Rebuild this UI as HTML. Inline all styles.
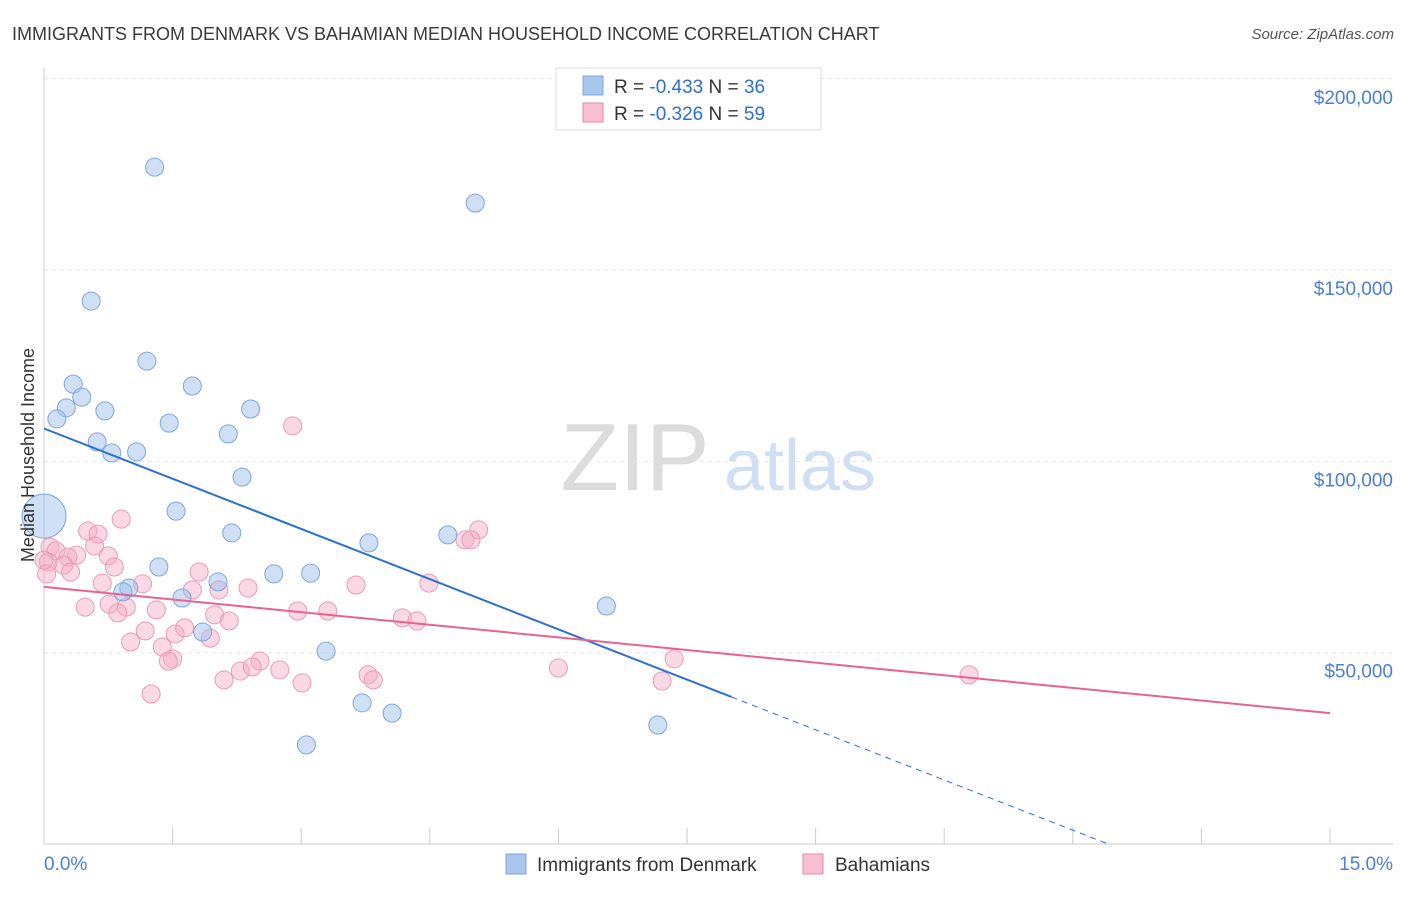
<!DOCTYPE html>
<html><head><meta charset="utf-8"><style>
body{margin:0;background:#fff;font-family:"Liberation Sans",sans-serif}
svg text{font-family:"Liberation Sans",sans-serif}
</style></head><body>
<svg width="1406" height="892" xmlns="http://www.w3.org/2000/svg">
<text x="12" y="40" font-size="18" fill="#3a3a3a">IMMIGRANTS FROM DENMARK VS BAHAMIAN MEDIAN HOUSEHOLD INCOME CORRELATION CHART</text>
<text x="1394" y="39" font-size="15" fill="#555" font-style="italic" text-anchor="end">Source: ZipAtlas.com</text>
<g id="grid"></g>
<g><text x="635" y="490" font-size="96" fill="#dcdcdc" font-family="Liberation Serif" text-anchor="middle">ZIP</text><text x="800" y="490" font-size="72" fill="#cfe0f4" text-anchor="middle">atlas</text></g>
<g id="axes"></g>
<g id="marks"></g>
<text transform="translate(34,455) rotate(-90)" font-size="18" fill="#333" text-anchor="middle">Median Household Income</text>
<g>
<rect x="556" y="68" width="265" height="62" fill="#fff" stroke="#ddd"/>
<rect x="583" y="76" width="20" height="19" fill="#a9c6ec" stroke="#7fa6dc"/>
<rect x="583" y="103" width="20" height="19" fill="#f7bfd0" stroke="#e98aa8"/>
<text x="614" y="93" font-size="19" fill="#333">R = <tspan fill="#2b6fd6">-0.433</tspan>   N = <tspan fill="#2b6fd6">36</tspan></text>
<text x="614" y="120" font-size="19" fill="#333">R = <tspan fill="#2b6fd6">-0.326</tspan>   N = <tspan fill="#2b6fd6">59</tspan></text>
</g>
<g>
<rect x="506" y="854" width="20" height="20" fill="#a9c6ec" stroke="#7fa6dc"/>
<text x="537" y="871" font-size="19" fill="#333">Immigrants from Denmark</text>
<rect x="803" y="854" width="20" height="20" fill="#f7bfd0" stroke="#e98aa8"/>
<text x="835" y="871" font-size="19" fill="#333">Bahamians</text>
</g>
</svg>
<script>
const blueX=[1.29,5.03,0.55,1.20,0.34,1.73,0.44,0.26,0.71,2.41,0.15,1.46,2.15,0.62,0.79,1.08,2.31,1.54,0.0,2.19,3.79,4.71,1.34,2.68,3.11,2.03,0.99,0.92,1.61,6.56,1.85,3.29,3.71,4.06,3.06,7.16];
const blueY=[176.9,167.5,141.9,126.2,120.2,119.7,116.8,114.0,113.2,113.7,111.1,110.0,107.2,105.1,102.2,102.5,95.9,87.0,85.7,81.3,78.7,80.8,72.4,70.6,70.8,68.5,66.9,65.9,64.3,62.2,55.4,50.4,36.9,34.2,25.9,31.1];
const pinkX=[2.90,0.90,0.51,5.07,0.63,4.91,4.98,0.07,0.59,0.14,0.38,0.75,0.28,0.05,0.23,0.31,0.82,1.81,0.68,1.15,3.64,4.49,1.73,2.04,2.38,0.76,1.31,0.96,0.48,2.96,3.31,0.86,1.99,2.16,4.18,4.35,1.18,1.53,1.64,1.94,1.01,1.38,1.50,1.45,2.52,2.29,2.43,2.75,6.00,7.35,3.78,2.10,3.01,3.84,7.21,1.25,10.79,0.0,0.03];
const pinkY=[109.3,84.9,81.8,82.1,81.0,79.5,79.5,77.6,77.9,76.6,75.5,75.3,75.0,73.7,72.9,71.1,72.4,71.1,68.2,68.0,67.7,68.2,66.4,66.4,66.9,62.7,61.2,61.9,61.9,60.9,60.9,60.4,59.9,58.3,59.1,58.3,55.7,54.9,56.5,53.8,52.8,51.5,48.4,47.8,47.8,45.2,46.3,45.5,46.0,48.4,44.2,42.9,42.1,42.9,42.6,39.2,44.2,74.2,70.6];
const yTicks=[50,100,150,200];
const yTickLabels=["$50,000","$100,000","$150,000","$200,000"];
const xTicks=[0,1.5,3,4.5,6,7.5,9,10.5,12,13.5,15];
const blueTrend=[108.6,-8.75]; // intercept, slope
const pinkTrend=[67.2,-2.2];
const blueSolidEnd=8.02;

const NS="http://www.w3.org/2000/svg";
const X=v=>44+v/15*1286;
const Y=v=>844-v/50*191.3;
function mk(t,a,p){const e=document.createElementNS(NS,t);for(const k in a)e.setAttribute(k,a[k]);p.appendChild(e);return e;}
const grid=document.getElementById('grid'),axes=document.getElementById('axes'),marks=document.getElementById('marks');
yTicks.forEach((t,i)=>{
 const l=mk('line',{x1:44,x2:1393,y1:Y(t),y2:Y(t),stroke:'#e6e6e6','stroke-dasharray':'4,4'},grid);
 
 
 const tx=mk('text',{x:1393,y:Y(t)+25,'font-size':19,fill:'#4a7fd4','text-anchor':'end'},axes);
 tx.textContent=yTickLabels[i];
 
 
});
mk('line',{x1:44,x2:44,y1:68,y2:844,stroke:'#ccc'},axes);
mk('line',{x1:44,x2:1393,y1:844,y2:844,stroke:'#ccc'},axes);
xTicks.forEach(t=>{const l=mk('line',{x1:X(t),x2:X(t),y1:828,y2:844,stroke:'#ccc'},axes);
 
 });
let a=mk('text',{x:44,y:870,'font-size':19,fill:'#4a7fd4'},axes);a.textContent='0.0%';


a=mk('text',{x:1393,y:870,'font-size':19,fill:'#4a7fd4','text-anchor':'end'},axes);a.textContent='15.0%';



pinkX.forEach((x,i)=>{const c=mk('circle',{cx:X(x),cy:Y(pinkY[i]),r:9,fill:'rgba(244,170,195,0.45)',stroke:'#eb9ab4','stroke-width':1},marks);
 
 });
blueX.forEach((x,i)=>{const c=mk('circle',{cx:X(x),cy:Y(blueY[i]),r:i===18?22:9,fill:'rgba(160,192,236,0.5)',stroke:'#7fa6dc','stroke-width':1},marks);
 
 });
const bz=-blueTrend[0]/blueTrend[1];
let l=mk('line',{x1:X(0),y1:Y(blueTrend[0]),x2:X(blueSolidEnd),y2:Y(blueTrend[0]+blueTrend[1]*blueSolidEnd),stroke:'#2b6fd6','stroke-width':2},marks);


l=mk('line',{x1:X(blueSolidEnd),y1:Y(blueTrend[0]+blueTrend[1]*blueSolidEnd),x2:X(bz),y2:Y(0),stroke:'#2b6fd6','stroke-width':1,'stroke-dasharray':'6,5'},marks);


l=mk('line',{x1:X(0),y1:Y(pinkTrend[0]),x2:X(15),y2:Y(pinkTrend[0]+pinkTrend[1]*15),stroke:'#e8638f','stroke-width':2},marks);


</script>
</body></html>
